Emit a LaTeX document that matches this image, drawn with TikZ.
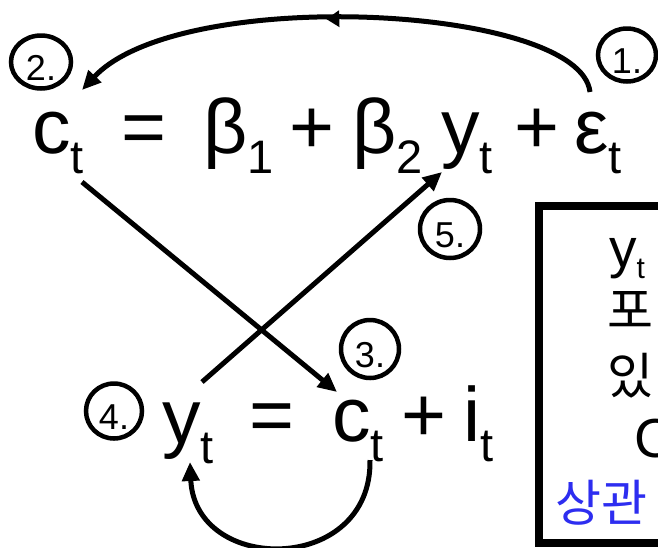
\documentclass[tikz,border=0pt]{standalone}
\usepackage{fontspec}
\setmainfont{Liberation Sans}
\newfontfamily\krfont{Noto Sans CJK KR}
\usetikzlibrary{arrows.meta,decorations.markings,shapes.geometric}
\definecolor{txtblue}{RGB}{45,45,240}
\newcommand\mysub[1]{\raisebox{-20pt}{\fontsize{47}{47}\selectfont #1}}
\newcommand\boxsub[1]{\raisebox{-11pt}{\fontsize{30}{30}\selectfont #1}}
\begin{document}
\begin{tikzpicture}[x=1pt,y=-1pt,
  eqtxt/.style={anchor=base west,inner sep=0pt,font=\fontsize{77}{80}\selectfont},
  numcirc/.style={draw,ellipse,line width=4.5pt,minimum width=58pt,minimum height=56pt,
    inner sep=0pt,text height=37pt,text depth=0pt,font=\fontsize{36}{36}\selectfont},
  conn/.style={line width=5pt,-{Triangle[length=19pt,width=17pt]}},
  boxtxt/.style={anchor=base west,inner sep=0pt,font=\fontsize{55}{57}\selectfont},
  krtxt/.style={anchor=base west,inner sep=0pt,font=\krfont\fontsize{50}{52}\selectfont},
  midarrow/.style={decoration={markings,mark=at position 0.525 with {\arrow{Triangle[length=13pt,width=16pt]}}},postaction={decorate}}
]
\useasboundingbox (0,0) rectangle (658,547);
\clip (0,0) rectangle (658,547);

% top equation
\node[eqtxt] (ct1) at (32,153) {c\mysub{t}};
\node[eqtxt] (eq1) at (121,153) {=};
\node[eqtxt] (b1) at (203,153) {β\mysub{1}};
\node[eqtxt] (pl1) at (289,153) {+};
\node[eqtxt] (b2) at (352,153) {β\mysub{2}};
\node[eqtxt] (yt1) at (441,153) {y\mysub{t}};
\node[eqtxt] (pl2) at (514,153) {+};
\node[eqtxt] (eps) at (574,153) {ε\mysub{t}};

% bottom equation
\node[eqtxt] (yt2) at (162,443) {y\mysub{t}};
\node[eqtxt] (eq2) at (249,441) {=};
\node[eqtxt] (ct2) at (332,441) {c\mysub{t}};
\node[eqtxt] (pl3) at (401,441) {+};
\node[eqtxt] (it) at (463,441) {i\mysub{t}};

% numbered circles
\node[numcirc,minimum height=53pt] (n1) at (627,55) {1.};
\node[numcirc,minimum width=60pt,minimum height=53pt] (n2) at (41,62) {2.};
\node[numcirc,minimum height=58pt] (n3) at (370,349) {3.};
\node[numcirc,minimum width=56pt,minimum height=55pt] (n4) at (114,411) {4.};
\node[numcirc,minimum width=60pt,minimum height=58pt] (n5) at (450,229) {5.};

% connector end points
\coordinate (epsTop) at (590,92);
\coordinate (ctTop) at (82,90);
\coordinate (ctBot) at (82,182);
\coordinate (ct2Top) at (337,392);
\coordinate (yt2Top) at (202,382);
\coordinate (yt1Bot) at (442,172);
\coordinate (ct2Bot) at (370,460);
\coordinate (yt2Bot) at (190,462);

% connectors
\draw[conn,midarrow] (epsTop) .. controls (580,5) and (180,-15) .. (ctTop);
\draw[conn] (ctBot) -- (ct2Top);
\draw[conn] (yt2Top) -- (yt1Bot);
\draw[conn] (ct2Bot) .. controls (372,575) and (195,575) .. (yt2Bot);

% box on the right
\draw[line width=8pt] (539,206) rectangle (720,543);
\node[boxtxt] (bx1) at (609,267) {y\boxsub{t}};
\node[krtxt] (bx2) at (607,328) {포};
\node[krtxt] (bx3) at (607,394) {있};
\node[boxtxt] (bx4) at (634,457) {C};
\node[krtxt,text=txtblue] (bx5) at (555,521) {상관};
\end{tikzpicture}
\end{document}
